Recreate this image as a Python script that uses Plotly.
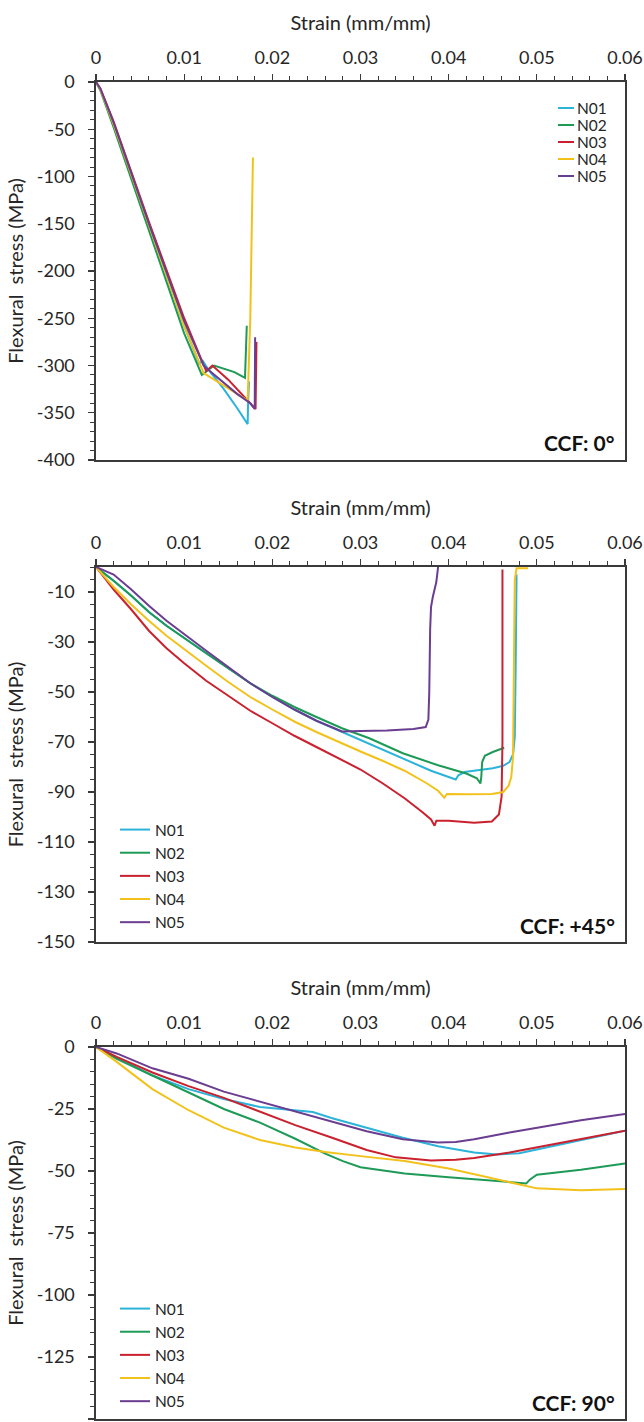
import plotly.graph_objects as go

W, H = 644, 1422
FONT = "Lato"

names = ["N01", "N02", "N03", "N04", "N05"]
colors = ["#2BB3D9", "#1E9A57", "#C9212E", "#F2C21B", "#6B3D90"]

# ---------------- Panel A : CCF 0 deg ----------------
a_n01_x = [0, 0.0005, 0.002, 0.006, 0.010, 0.0117, 0.0121, 0.0128, 0.0145, 0.0160, 0.0172, 0.01725, 0.01735]
a_n01_y = [0, -8, -45, -152, -258, -298, -295, -305, -325, -345, -362, -340, -317]
a_n02_x = [0, 0.0005, 0.002, 0.006, 0.010, 0.0120, 0.0134, 0.0157, 0.0169, 0.0171]
a_n02_y = [0, -9, -48, -158, -266, -310, -300, -307, -313, -258]
a_n03_x = [0, 0.0005, 0.002, 0.006, 0.010, 0.0125, 0.0132, 0.0150, 0.0181, 0.0182]
a_n03_y = [0, -7, -42, -148, -250, -306, -300, -315, -346, -275]
a_n04_x = [0, 0.0005, 0.002, 0.006, 0.010, 0.0122, 0.0140, 0.0160, 0.0172, 0.0175, 0.0178]
a_n04_y = [0, -8, -45, -152, -258, -308, -318, -330, -337, -250, -80]
a_n05_x = [0, 0.0005, 0.002, 0.006, 0.010, 0.0122, 0.0128, 0.0145, 0.0160, 0.0175, 0.0180, 0.01805]
a_n05_y = [0, -7, -43, -150, -253, -300, -305, -318, -330, -340, -346, -270]

# ---------------- Panel B : CCF +45 deg ----------------
b_n01_x = [0, 0.002, 0.004, 0.006, 0.008, 0.010, 0.0125, 0.015, 0.0175, 0.020, 0.0225, 0.025, 0.0279, 0.031, 0.0348, 0.038, 0.0408, 0.0411, 0.0418, 0.043, 0.045, 0.0462, 0.0469, 0.0473, 0.0475, 0.0476, 0.0477]
b_n01_y = [0, -5.5, -11.5, -18, -23.5, -28.5, -34.5, -40.5, -46.5, -52, -57, -61.5, -66, -70.5, -76.5, -81.5, -85, -83.3, -82, -81.5, -80.5, -79.5, -78, -75, -68, -40, -3]
b_n02_x = [0, 0.002, 0.004, 0.006, 0.008, 0.010, 0.0125, 0.015, 0.0175, 0.020, 0.0225, 0.025, 0.0279, 0.031, 0.0348, 0.0388, 0.0420, 0.0432, 0.0436, 0.0437, 0.0438, 0.0441, 0.0450, 0.0463]
b_n02_y = [0, -5.5, -11.5, -18, -23.5, -28.5, -34.5, -40.5, -46.5, -51.5, -56, -60, -64.5, -68.5, -74.5, -79.3, -82.6, -84.5, -86.6, -84, -78, -75.5, -74, -72.3]
b_n03_x = [0, 0.002, 0.004, 0.006, 0.008, 0.010, 0.0125, 0.015, 0.0175, 0.020, 0.0225, 0.025, 0.0275, 0.030, 0.0325, 0.035, 0.037, 0.038, 0.0384, 0.0386, 0.040, 0.0429, 0.0449, 0.0457, 0.0460, 0.0461, 0.0461, 0.0461]
b_n03_y = [0, -9, -17, -25.5, -32.5, -38.5, -45.5, -51.5, -57.5, -62.5, -67.5, -72, -76.5, -81, -86.5, -92.5, -98, -101, -103.5, -101.5, -101.5, -102.3, -101.8, -99, -92, -70, -30, -1]
b_n04_x = [0, 0.002, 0.004, 0.006, 0.008, 0.010, 0.0125, 0.015, 0.0175, 0.020, 0.0226, 0.025, 0.0275, 0.030, 0.0325, 0.035, 0.0375, 0.0388, 0.0395, 0.0398, 0.042, 0.0449, 0.0462, 0.0468, 0.0471, 0.0473, 0.0474, 0.0475, 0.0477, 0.0490]
b_n04_y = [0, -8, -15, -21.5, -27.5, -33, -39.5, -46, -52, -57, -62, -66, -70, -73.8, -77.5, -81.5, -86.5, -89.5, -92.3, -90.8, -90.9, -90.8, -90, -87.5, -84, -76, -40, -5, -0.5, -0.5]
b_n05_x = [0, 0.002, 0.004, 0.006, 0.008, 0.010, 0.0125, 0.015, 0.0175, 0.020, 0.0225, 0.025, 0.0279, 0.030, 0.033, 0.036, 0.0374, 0.0377, 0.0378, 0.0379, 0.0380, 0.0382, 0.0386, 0.0388]
b_n05_y = [0, -3, -9, -15.5, -21.5, -27, -33.5, -40, -46.5, -52, -57, -61.5, -65.8, -65.6, -65.4, -64.8, -64, -61, -50, -25, -16, -12, -6, 0]

# ---------------- Panel C : CCF 90 deg ----------------
c_n01_x = [0, 0.00235, 0.0064, 0.0105, 0.0145, 0.0186, 0.0226, 0.0246, 0.0267, 0.0307, 0.0348, 0.0388, 0.0429, 0.0455, 0.048, 0.050, 0.055, 0.060]
c_n01_y = [0, -4.3, -11.5, -17, -21, -24.2, -25.4, -26.2, -28.6, -32.6, -36.6, -40, -42.5, -43.3, -42.8, -41.3, -37.5, -33.8]
c_n02_x = [0, 0.00235, 0.0064, 0.0105, 0.0145, 0.0186, 0.0226, 0.026, 0.028, 0.030, 0.035, 0.040, 0.045, 0.0488, 0.0492, 0.050, 0.055, 0.060]
c_n02_y = [0, -4.8, -11.5, -18.3, -25, -30.5, -37, -43, -46, -48.5, -51, -52.5, -54, -55, -53.5, -51.5, -49.5, -47]
c_n03_x = [0, 0.00235, 0.0064, 0.0105, 0.0145, 0.0186, 0.0226, 0.0267, 0.0307, 0.034, 0.038, 0.0408, 0.0429, 0.0469, 0.051, 0.055, 0.060]
c_n03_y = [0, -4, -10.3, -15.8, -20.5, -26, -31.5, -36.5, -41.5, -44.5, -45.8, -45.5, -44.8, -42.5, -39.8, -37, -33.8]
c_n04_x = [0, 0.00235, 0.0064, 0.0105, 0.0145, 0.0186, 0.0226, 0.026, 0.030, 0.035, 0.040, 0.045, 0.050, 0.055, 0.060]
c_n04_y = [0, -6, -17, -25.5, -32.5, -37.5, -40.5, -42.3, -44, -46, -49, -53, -57, -57.8, -57.3]
c_n05_x = [0, 0.00235, 0.0064, 0.0105, 0.0145, 0.0186, 0.0226, 0.0267, 0.0307, 0.0348, 0.0388, 0.0408, 0.0429, 0.0469, 0.051, 0.055, 0.060]
c_n05_y = [0, -2.6, -8.6, -12.8, -18, -22, -26, -30, -34, -37.2, -38.5, -38.3, -37.2, -34.5, -32, -29.5, -27]

x_ticks = [0, 0.01, 0.02, 0.03, 0.04, 0.05, 0.06]
x_labels = ["0", "0.01", "0.02", "0.03", "0.04", "0.05", "0.06"]
a_yticks = [0, -50, -100, -150, -200, -250, -300, -350, -400]
b_yticks = [-10, -30, -50, -70, -90, -110, -130, -150]
c_yticks = [0, -25, -50, -75, -100, -125, -150]
x_title = "Strain (mm/mm)"
y_title = "Flexural  stress (MPa)"
panel_labels = ["<b>CCF: 0°</b>", "<b>CCF: +45°</b>", "<b>CCF: 90°</b>"]

panels = [
    ([a_n01_x, a_n02_x, a_n03_x, a_n04_x, a_n05_x], [a_n01_y, a_n02_y, a_n03_y, a_n04_y, a_n05_y]),
    ([b_n01_x, b_n02_x, b_n03_x, b_n04_x, b_n05_x], [b_n01_y, b_n02_y, b_n03_y, b_n04_y, b_n05_y]),
    ([c_n01_x, c_n02_x, c_n03_x, c_n04_x, c_n05_x], [c_n01_y, c_n02_y, c_n03_y, c_n04_y, c_n05_y]),
]
ytick_sets = [a_yticks, b_yticks, c_yticks]
yranges = [[-400, 0], [-150, 0], [-150, 0]]
yminor = [10, 5, 5]

def py(px):
    return 1 - px / H

# pixel geometry of the three plot boxes (top, bottom)
boxes = [(82, 460), (567, 942), (1047, 1419)]
xl, xr = 96, 625

fig = go.Figure()
legend_ids = ["legend", "legend2", "legend3"]
for p, (xs, ys) in enumerate(panels):
    for i in range(5):
        fig.add_trace(go.Scatter(
            x=xs[i], y=ys[i], mode="lines", name=names[i],
            line=dict(color=colors[i], width=2),
            xaxis="x" if p == 0 else f"x{p+1}",
            yaxis="y" if p == 0 else f"y{p+1}",
            legend=legend_ids[p],
            showlegend=(p != 0),
        ))

LC = "#3a3a3a"
TXT = "#262626"

layout = dict(width=W, height=H, margin=dict(l=0, r=0, t=0, b=0),
              paper_bgcolor="white", plot_bgcolor="white", showlegend=True)
for p in range(3):
    top, bot = boxes[p]
    xk = "xaxis" if p == 0 else f"xaxis{p+1}"
    yk = "yaxis" if p == 0 else f"yaxis{p+1}"
    xa = "x" if p == 0 else f"x{p+1}"
    ya = "y" if p == 0 else f"y{p+1}"
    layout[xk] = dict(
        showline=True, linecolor=LC, linewidth=1.6, mirror=True, showgrid=False, zeroline=False,
        automargin=False, domain=[xl / W, xr / W], anchor=ya, side="top",
        range=[0, 0.06], tickvals=x_ticks, ticktext=x_labels,
        ticks="outside", ticklen=6, tickcolor=LC, tickwidth=1.2,
        tickfont=dict(family=FONT, size=18, color=TXT), ticklabelstandoff=3,
        minor=dict(dtick=0.002, ticks="outside", ticklen=4, tickcolor=LC, tickwidth=1),
        title=dict(text=x_title, font=dict(family=FONT, size=20, color=TXT), standoff=10))
    layout[yk] = dict(
        showline=True, linecolor=LC, linewidth=1.6, mirror=True, showgrid=False, zeroline=False,
        automargin=False, domain=[py(bot), py(top)], anchor=xa,
        range=yranges[p], tickvals=ytick_sets[p], ticktext=[str(v) for v in ytick_sets[p]],
        ticks="outside", ticklen=6, tickcolor=LC, tickwidth=1.2,
        tickfont=dict(family=FONT, size=18, color=TXT), ticklabelstandoff=10,
        minor=dict(dtick=yminor[p], ticks="outside", ticklen=4, tickcolor=LC, tickwidth=1),
        title=dict(text=y_title, font=dict(family=FONT, size=20, color=TXT), standoff=8))

legend_pos = {"legend2": (115, 813), "legend3": (115, 1292)}
for key, (lx, ltop) in legend_pos.items():
    layout[key] = dict(x=lx / W, y=py(ltop), xanchor="left", yanchor="top",
                       font=dict(family=FONT, size=15.5, color=TXT), bgcolor="rgba(0,0,0,0)",
                       tracegroupgap=0, itemwidth=30)

ann_y = [443, 925, 1402]
annotations = [
    dict(text=panel_labels[p], xref="paper", yref="paper", x=617 / W, y=py(ann_y[p]),
         xanchor="right", yanchor="middle", showarrow=False,
         font=dict(family=FONT, size=21, color="#111"))
    for p in range(3)
]

# compact key of the first panel (its entries sit closer together than a Plotly legend allows)
shapes = []
for k in range(5):
    yk = 108 + 17 * k
    shapes.append(dict(type="line", xref="paper", yref="paper",
                       x0=558 / W, x1=574 / W, y0=py(yk), y1=py(yk),
                       line=dict(color=colors[k], width=2)))
    annotations.append(dict(text=names[k], xref="paper", yref="paper", x=575 / W, y=py(yk),
                            xanchor="left", yanchor="middle", showarrow=False,
                            font=dict(family=FONT, size=15.5, color=TXT)))
layout["annotations"] = annotations
layout["shapes"] = shapes

fig.update_layout(layout)
fig.write_html(
    "out.html",
    config={"displayModeBar": False, "staticPlot": True},
    post_script="document.body.style.margin='0';document.body.style.overflow='hidden';"
                "document.documentElement.style.overflow='hidden';",
)
